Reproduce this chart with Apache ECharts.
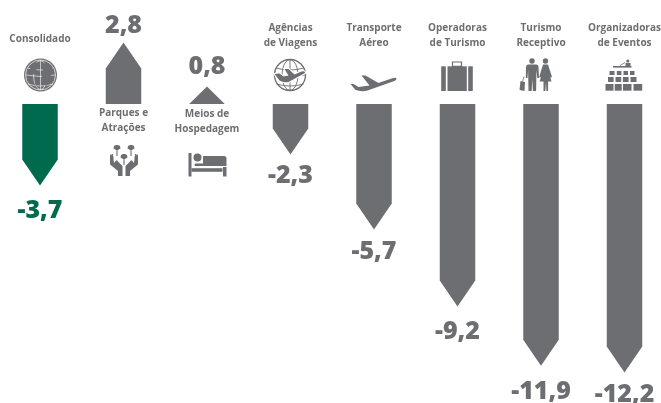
<!DOCTYPE html>
<html><head><meta charset="utf-8">
<style>html,body{margin:0;padding:0;background:#fff}#c{width:661px;height:403px}</style>
<script src="https://cdn.jsdelivr.net/npm/echarts@6/dist/echarts.min.js"></script>
</head><body><div id="c"></div>
<script>
const categories = ['Consolidado','Parques e\nAtrações','Meios de\nHospedagem','Agências\nde Viagens','Transporte\nAéreo','Operadoras\nde Turismo','Turismo\nReceptivo','Organizadoras\nde Eventos'];
const values = [-3.7, 2.8, 0.8, -2.3, -5.7, -9.2, -11.9, -12.2];
const GREEN = '#006a4f', GREY = '#6d6e71';
const barColors = [GREEN, GREY, GREY, GREY, GREY, GREY, GREY, GREY];
const valueOffsets = [25, -16.5, -19.5, 21, 22, 25, 26, 22];
const nameOffsets = [-65, 16.5, 17.5, -68, -68, -68, -68, -68];

const P = d => 'M0 0L0 0M60 60L60 60' + d;
const ring = (cx, cy, r) => `M${cx-r} ${cy}A${r} ${r} 0 1 0 ${cx+r} ${cy}A${r} ${r} 0 1 0 ${cx-r} ${cy}Z`;
const rect = (x, y, w, h) => `M${x} ${y}L${x+w} ${y}L${x+w} ${y+h}L${x} ${y+h}Z`;
const grid = (cx, cy, r, rx) => `M${cx} ${cy-r}L${cx} ${cy+r}`+
  `M${cx} ${cy-r}A${rx} ${r} 0 0 0 ${cx} ${cy+r}A${rx} ${r} 0 0 0 ${cx} ${cy-r}`+
  `M${cx-r+1.5} ${cy-7}Q${cx} ${cy-3} ${cx+r-1.5} ${cy-7}M${cx-r} ${cy}Q${cx} ${cy+3} ${cx+r} ${cy}M${cx-r+2} ${cy+9}Q${cx} ${cy+13} ${cx+r-2} ${cy+9}`;
const F = d => ({ d, fill: true });
const S = (d, w, c) => ({ d, w, c });
const icons = [
  { dx: -25, dy: -54.5, parts: [
    F(ring(25.5, 25.5, 16.5)),
    S(ring(25.5, 25.5, 15), 0.7, '#fff'),
    S(grid(25.5, 25.5, 14.5, 7), 0.6, '#fff'),
    F('M14 23L16 17L21 13.5L24 13L23 17L21 19L22 22L18 25L14 25Z'),
    F('M20 28L24 29L23 34L21 37L20 33Z'),
    F('M28 14L33 13.5L37 17L38 21L35 22L36 26L33 32L32 36L30 36L29 31L27 27L29 22L27 19Z')
  ]},
  { dx: -23.5, dy: 31, parts: [
    F('M10 20L13 19L14 28L16.5 25L22.5 31L22.5 41L18 41L18 36L10 29.5Z'),
    F('M38 20L35 19L34 28L31.5 25L25.5 31L25.5 41L30 41L30 36L38 29.5Z'),
    F('M13.5 13.5L14 11L16 10L18 10L20 11L20.5 13.5L18 15L16 15Z'),
    F('M27.5 13.5L28 11L30 10L32 10L34 11L34.5 13.5L32 15L30 15Z'),
    F('M20.5 22.5L21 20L23 19L25 19L27 20L27.5 22.5L25 24L23 24Z'),
    S('M17 13L17 21M31 13L31 21M24 22L24 30', 1.1, GREY)
  ]},
  { dx: -25, dy: 36, parts: [
    F(rect(6.5, 13, 3, 23.5)), F(rect(9.5, 28.2, 31, 3.6)), F(rect(41, 27, 3.5, 9.5)),
    F(ring(15.5, 17.5, 4)),
    F('M21 16L42 16Q44.5 16 44.5 18.5L44.5 26L21 26Z'),
    F('M13 23.5L21 23.5L21 26L13 26Q12 25 13 23.5Z')
  ]},
  { dx: -25, dy: -54, parts: [
    S(ring(24.5, 25, 15.5), 1.3, GREY),
    S(grid(24.5, 25, 15.5, 8), 0.9, GREY),
    { d: 'M9 24L14 23.5L18 26.5L23 25.5L19 19L23 19L29 24.5L36 21.5Q40 20.5 39.5 23L23 32Q18 33 14 30.5Z', w: 2, c: '#fff' },
    F('M9 24L14 23.5L18 26.5L23 25.5L19 19L23 19L29 24.5L36 21.5Q40 20.5 39.5 23L23 32Q18 33 14 30.5Z')
  ]},
  { dx: -28.5, dy: -44, parts: [
    F('M5 24L8 24L13 27L24 25.5L16 15.5L20 15.5L33 23L46 18.5Q51 17 51 19Q51 20.5 46 22L22 30.5Q16 32 10 30Z')
  ]},
  { dx: -25, dy: -54, parts: [
    F(rect(8.7, 16.3, 4.6, 24.7)), F(rect(15, 16.3, 19.3, 24.7)), F(rect(35.7, 16.3, 4.6, 24.7)),
    S(rect(20, 12, 9, 4.3), 1.2, GREY)
  ]},
  { dx: -26.5, dy: -54, parts: [
    F(ring(17.5, 11, 2.7)), F(ring(31, 11, 2.7)),
    F('M13.5 14.5L21.5 14.5Q24 14.5 24 17L24.5 28L22.8 28L22 20L21.6 41L18.4 41L17.8 29L17.2 41L14 41L13.6 20L13 28L11.3 28L11.5 17Q11.5 14.5 13.5 14.5Z'),
    F('M28.5 14.5L33.5 14.5L37.5 27L35.8 27.5L37 31.5L33.6 31.5L33.6 41L31.9 41L31.5 32L30.9 41L29 41L29 31.5L25 31.5L26.4 27.5L24.7 27Z'),
    F('M6 31L10.5 32L10 41L5 40Z'),
    S('M8 31.5L9.5 26.5', 0.8, GREY)
  ]},
  { dx: -25, dy: -54, parts: [
    F(ring(28.3, 11, 1.6)),
    F('M26 13L31 13L31 16L26 16Z'),
    S('M20.5 15.5L25.5 12.5', 0.8, GREY),
    F(rect(13.5, 16, 18.5, 1.6)),
    F(rect(10, 21, 5, 4)), F(rect(17.3, 21, 4.6, 4)), F(rect(24, 21, 4.5, 4)), F(rect(30.5, 21, 4.5, 4)),
    F(rect(8.5, 27, 5.6, 5)), F(rect(16, 27, 5.7, 5)), F(rect(23.4, 27, 5.7, 5)), F(rect(31, 27, 6, 5)),
    F(rect(6, 34, 8, 6.7)), F(rect(15.2, 34, 7, 6.7)), F(rect(23.5, 34, 8.5, 6.7)), F(rect(34, 34, 8.7, 6.7))
  ]}
];

const chart = echarts.init(document.getElementById('c'), null, { renderer: 'canvas' });

function renderItem(params, api) {
  const i = params.dataIndex;
  const v = api.value(1);
  const color = barColors[i];
  const [cx, yV] = api.coord([i, v]);
  const y0 = api.coord([i, 0])[1];
  const hw = api.size([1, 0])[0] * 0.2126;
  const up = v > 0;
  const dir = up ? -1 : 1;
  const h = Math.abs(yV - y0);
  const sh = yV - dir * Math.min(26, h);
  const children = [{
    type: 'polygon',
    shape: { points: [[cx - hw, y0], [cx + hw, y0], [cx + hw, sh], [cx, yV], [cx - hw, sh]] },
    style: { fill: color }
  }, {
    type: 'text',
    style: {
      text: v.toFixed(1).replace('.', ','), x: cx, y: yV + valueOffsets[i],
      align: 'center', verticalAlign: 'middle',
      fontFamily: 'Open Sans', fontWeight: 800, fontSize: 25, fill: color
    }
  }, {
    type: 'text',
    style: {
      text: categories[i], x: cx, y: y0 + nameOffsets[i],
      align: 'center', verticalAlign: 'middle', lineHeight: 15,
      fontFamily: 'Open Sans', fontWeight: 700, fontSize: 10, fill: GREY
    }
  }];
  const ic = icons[i];
  children.push({
    type: 'group', x: cx + ic.dx, y: y0 + ic.dy,
    children: ic.parts.map(p => ({
      type: 'path',
      shape: { pathData: P(p.d), x: 0, y: 0, width: 60, height: 60, layout: 'cover' },
      style: p.fill ? { fill: GREY } : { fill: 'none', stroke: p.c, lineWidth: p.w }
    }))
  });
  return { type: 'group', children };
}

chart.setOption({
  animation: false,
  backgroundColor: '#fff',
  grid: { left: -1.75, width: 668, top: 16, height: 374, outerBoundsMode: 'none' },
  xAxis: { type: 'category', data: categories, show: false },
  yAxis: { type: 'value', min: -13, max: 4, show: false },
  series: [{
    type: 'custom',
    renderItem,
    clip: false,
    silent: true,
    encode: { x: 0, y: 1 },
    data: values.map((v, i) => [i, v])
  }]
});
</script></body></html>
